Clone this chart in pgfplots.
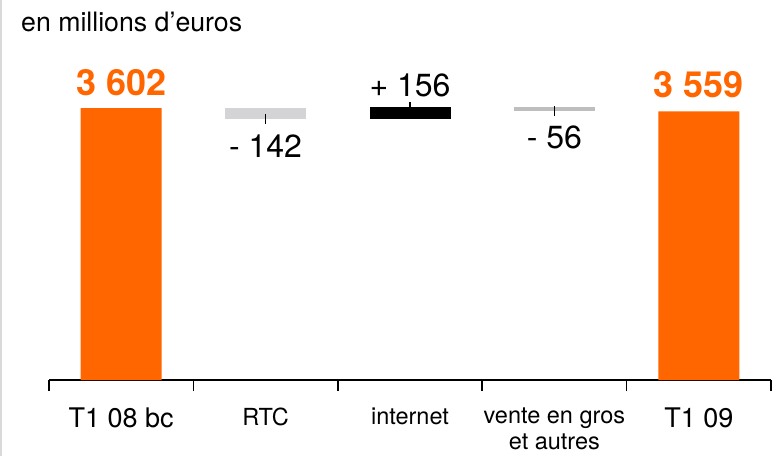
\documentclass[border=0pt]{standalone}
\usepackage{pgfplots}
\pgfplotsset{compat=1.18}
\usepackage{fontspec}
\setmainfont{TeX Gyre Heros}
\definecolor{orfr}{HTML}{FF6600}
\definecolor{lgA}{HTML}{D4D4D6}
\definecolor{lgB}{HTML}{BEBEBE}
\definecolor{frameg}{HTML}{D9D9D9}
\begin{document}
\begin{tikzpicture}
\pgfplotsset{common/.style={scale only axis, width=722pt, height=350pt,
  xmin=-0.5, xmax=4.5, ymin=0, ymax=4636}}
\begin{axis}[common,
  ybar stacked, bar width=81pt,
  axis x line=bottom, axis y line=none,
  x axis line style={-, line width=1.5pt},
  tick align=outside,
  xtick={0,1,2,3,4},
  xticklabels={{\fontsize{27}{30}\selectfont T1 08 bc},RTC,internet,{vente en gros\\[-2.5pt]et autres},{\fontsize{27}{30}\selectfont T1 09}},
  major tick length=0pt,
  extra x ticks={-0.5,0.5,1.5,2.5,3.5,4.5},
  extra x tick labels={},
  extra x tick style={major tick length=11pt, tick style={black, line width=1.5pt}},
  xticklabel style={font=\fontsize{23.5}{28}\selectfont, align=center, anchor=north, inner sep=0pt, text depth=0pt, yshift=-28pt},
]
\addplot[draw=none, fill=none] coordinates {(0,0)(1,3460)(2,3460)(3,3560)(4,0)};
\addplot[draw=none, fill=orfr] coordinates {(0,3602)(1,0)(2,0)(3,0)(4,3559)};
\addplot[draw=none, fill=lgA] coordinates {(0,0)(1,142)(2,0)(3,0)(4,0)};
\addplot[draw=none, fill=black] coordinates {(0,0)(1,0)(2,156)(3,0)(4,0)};
\addplot[draw=none, fill=lgB] coordinates {(0,0)(1,0)(2,0)(3,56)(4,0)};
\end{axis}
\begin{axis}[common, hide axis]
\addplot[only marks, mark=|, mark size=5pt, mark options={line width=1.2pt, black}] coordinates {(1,3460)(2,3616)(3,3560)};
\node[anchor=base, text=orfr, font=\bfseries\fontsize{36}{40}\selectfont, yshift=13pt] at (axis cs:0,3602) {3 602};
\node[anchor=base, text=orfr, font=\bfseries\fontsize{36}{40}\selectfont, yshift=14pt] at (axis cs:4,3559) {3 559};
\node[anchor=base, font=\fontsize{32}{36}\selectfont, yshift=-38.7pt] at (axis cs:1,3460) {- 142};
\node[anchor=base, font=\fontsize{32}{36}\selectfont, yshift=10.7pt] at (axis cs:2,3616) {+ 156};
\node[anchor=base, font=\fontsize{32}{36}\selectfont, yshift=-37pt] at (axis cs:3,3560) {- 56};
\end{axis}
\node[anchor=base west, font=\fontsize{26.7}{30}\selectfont, inner sep=0pt] at (-28pt,348.3pt) {en millions d’euros};
\draw[color=frameg, line width=2pt] (-48pt,-76pt) -- (-48pt,380pt);
\pgfresetboundingbox
\path (-49pt,-76pt) rectangle (726pt,380pt);
\end{tikzpicture}
\end{document}
